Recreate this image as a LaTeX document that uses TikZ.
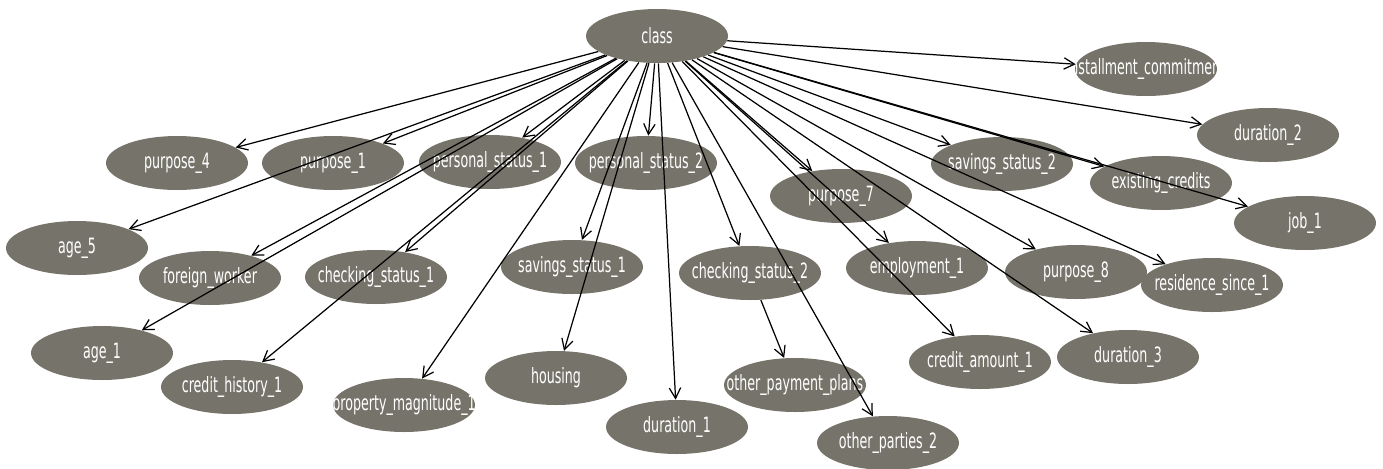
\documentclass[tikz,border=0pt]{standalone}
\usepackage{fontspec}
\setmainfont[FakeStretch=0.6]{DejaVu Sans}
\usetikzlibrary{shapes.geometric,arrows.meta}

\definecolor{nodegray}{RGB}{118,116,106}
\newcommand{\attr}[1]{\makebox[0pt]{#1}}

\begin{document}
\begin{tikzpicture}[x=0.02cm,y=-0.02cm,
    var/.style={ellipse,fill=nodegray,text=white,inner sep=0pt,
        minimum width=2.84cm,minimum height=1.08cm,
        font=\fontsize{12}{14}\selectfont},
    edge/.style={-{Straight Barb[length=6pt,width=6.5pt]},line width=0.7pt}
    ]
    \useasboundingbox (0,0) rectangle (1383,468);

    % class
    \node[var] (class) at (657,36) {\attr{class}};

    % upper row
    \node[var] (installment) at (1146,69) {\attr{installment\_commitment}};
    \node[var] (duration2) at (1268,135) {\attr{duration\_2}};
    \node[var] (purpose4) at (177,163) {\attr{purpose\_4}};
    \node[var] (purpose1) at (333,163) {\attr{purpose\_1}};
    \node[var] (personal1) at (490,162) {\attr{personal\_status\_1}};
    \node[var] (personal2) at (646,163) {\attr{personal\_status\_2}};
    \node[var] (savings2) at (1002,164) {\attr{savings\_status\_2}};
    \node[var] (existing) at (1161,183) {\attr{existing\_credits}};
    \node[var] (purpose7) at (841,196) {\attr{purpose\_7}};
    \node[var] (job1) at (1305,223) {\attr{job\_1}};

    % middle row
    \node[var] (age5) at (77,248) {\attr{age\_5}};
    \node[var] (foreign) at (210,278) {\attr{foreign\_worker}};
    \node[var] (checking1) at (376,277) {\attr{checking\_status\_1}};
    \node[var] (savings1) at (572,267) {\attr{savings\_status\_1}};
    \node[var] (checking2) at (750,273) {\attr{checking\_status\_2}};
    \node[var] (employment1) at (917,268) {\attr{employment\_1}};
    \node[var] (purpose8) at (1076,272) {\attr{purpose\_8}};
    \node[var] (residence1) at (1212,285) {\attr{residence\_since\_1}};

    % lower row
    \node[var] (age1) at (102,353) {\attr{age\_1}};
    \node[var] (history1) at (232,387) {\attr{credit\_history\_1}};
    \node[var] (property1) at (404,405) {\attr{property\_magnitude\_1}};
    \node[var] (housing) at (556,378) {\attr{housing}};
    \node[var] (duration1) at (677,427) {\attr{duration\_1}};
    \node[var] (otherpay) at (795,385) {\attr{other\_payment\_plans}};
    \node[var] (otherparties) at (888,443) {\attr{other\_parties\_2}};
    \node[var] (amount1) at (980,362) {\attr{credit\_amount\_1}};
    \node[var] (duration3) at (1128,357) {\attr{duration\_3}};

    % arcs from class
    \draw[edge] (class) -- (installment);
    \draw[edge] (class) -- (duration2);
    \draw[edge] (class) -- (purpose4);
    \draw[edge] (class) -- (purpose1);
    \draw[edge] (class) -- (personal1);
    \draw[edge] (class) -- (personal2);
    \draw[edge] (class) -- (savings2);
    \draw[edge] (class) -- (existing);
    \draw[edge] (class) -- (purpose7);
    \draw[edge] (class) -- (job1);
    \draw[edge] (class) -- (age5);
    \draw[edge] (class) -- (foreign);
    \draw[edge] (class) -- (checking1);
    \draw[edge] (class) -- (savings1);
    \draw[edge] (class) -- (checking2);
    \draw[edge] (class) -- (employment1);
    \draw[edge] (class) -- (purpose8);
    \draw[edge] (class) -- (residence1);
    \draw[edge] (class) -- (age1);
    \draw[edge] (class) -- (history1);
    \draw[edge] (class) -- (property1);
    \draw[edge] (class) -- (housing);
    \draw[edge] (class) -- (duration1);
    \draw[edge] (class) -- (otherparties);
    \draw[edge] (class) -- (amount1);
    \draw[edge] (class) -- (duration3);

    % other arcs
    \draw[edge] (checking2) -- (otherpay);

\end{tikzpicture}
\end{document}
